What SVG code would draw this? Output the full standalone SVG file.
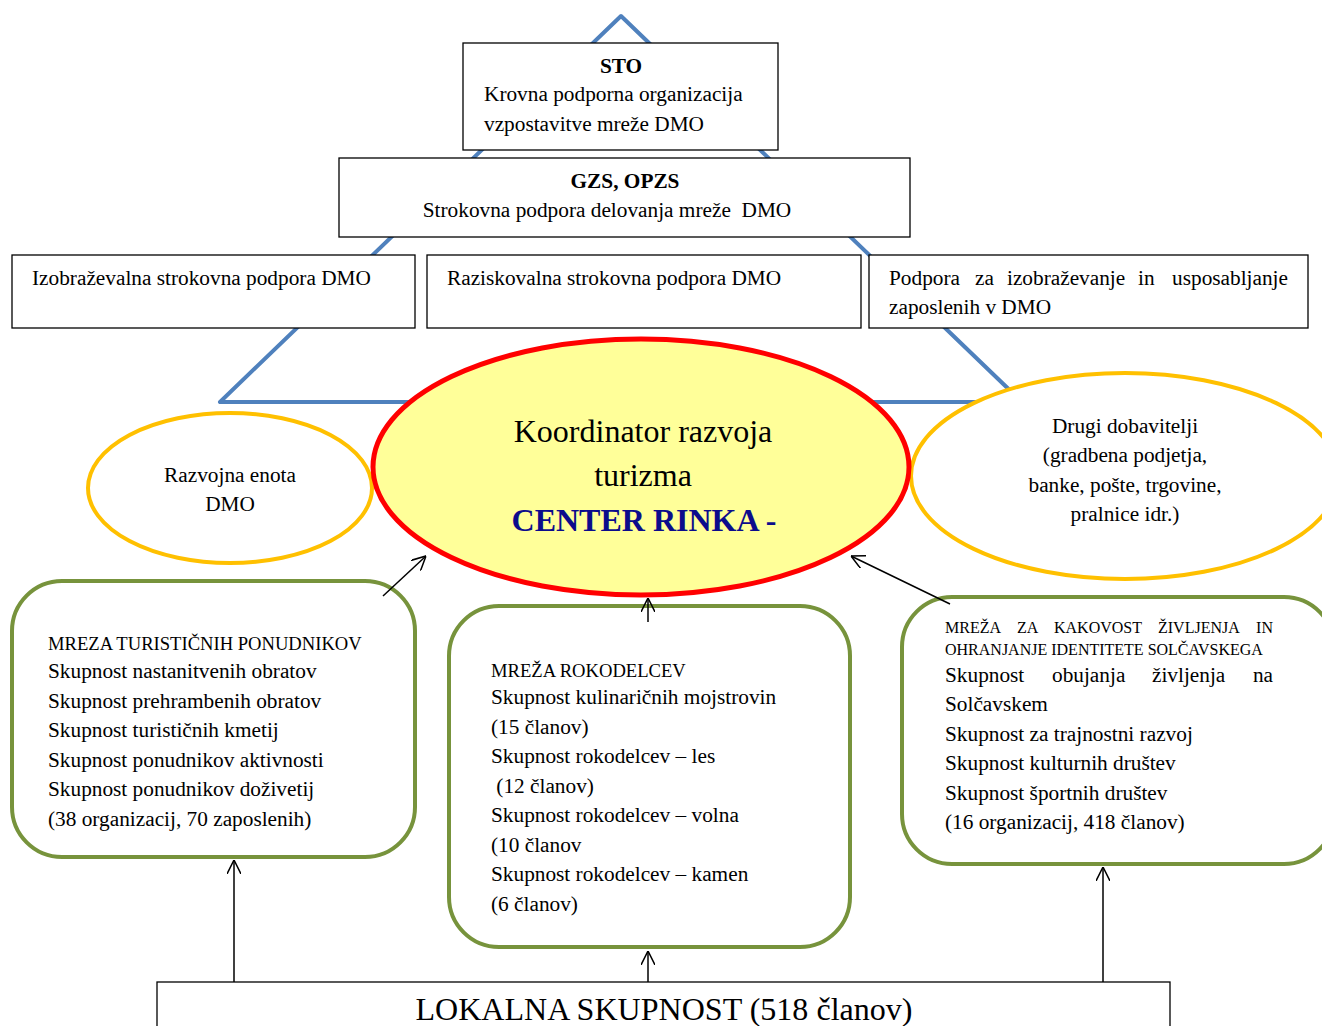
<svg xmlns="http://www.w3.org/2000/svg" width="1322" height="1026" viewBox="0 0 1322 1026">
<defs>
<marker id="arr" viewBox="0 0 12 12" refX="12" refY="6" markerWidth="14" markerHeight="14" markerUnits="userSpaceOnUse" orient="auto">
<path d="M0,0 L12,6 L0,12" fill="none" stroke="#000" stroke-width="1.3"/>
</marker>
<style>
text{font-family:"Liberation Serif","Times New Roman",serif;fill:#000}
.t{font-size:21.3px}
.s{font-size:18.6px}
.s2{font-size:16px}
.b{font-weight:bold}
.c{text-anchor:middle}
.box{fill:#fff;stroke:#000;stroke-width:1.3}
.grp{fill:#fff;stroke:#77933c;stroke-width:4}
.yel{fill:#fff;stroke:#ffc000;stroke-width:4}
.con{stroke:#000;stroke-width:1.5;fill:none;marker-end:url(#arr)}
</style>
</defs>
<rect width="1322" height="1026" fill="#fff"/>
<g id="triangle">
<polygon points="621,16 220,402 1022,402" fill="none" stroke="#4f81bd" stroke-width="4" stroke-linejoin="round"/>
</g>
<g id="sto">
<rect class="box" x="463" y="43" width="315" height="107"/>
<text class="t b c" x="621" y="73">STO</text>
<text class="t" x="484" y="101">Krovna podporna organizacija</text>
<text class="t" x="484" y="131">vzpostavitve mreže DMO</text>
</g>
<g id="gzs">
<rect class="box" x="339" y="158" width="571" height="79"/>
<text class="t b c" x="625" y="188">GZS, OPZS</text>
<text class="t c" x="607" y="217" xml:space="preserve">Strokovna podpora delovanja mreže  DMO</text>
</g>
<g id="izobrazevalna">
<rect class="box" x="12" y="255" width="403" height="73"/>
<text class="t" x="32" y="285">Izobraževalna strokovna podpora DMO</text>
</g>
<g id="raziskovalna">
<rect class="box" x="427" y="255" width="434" height="73"/>
<text class="t" x="447" y="285">Raziskovalna strokovna podpora DMO</text>
</g>
<g id="podpora">
<rect class="box" x="869" y="255" width="439" height="73"/>
<text class="t" y="285"><tspan x="889">Podpora</tspan><tspan x="975">za</tspan><tspan x="1007">izobraževanje</tspan><tspan x="1138">in</tspan><tspan x="1288" text-anchor="end">usposabljanje</tspan></text>
<text class="t" x="889" y="314">zaposlenih v DMO</text>
</g>
<g id="razvojna">
<ellipse class="yel" cx="230" cy="488" rx="142" ry="75"/>
<text class="t c" x="230" y="482">Razvojna enota</text>
<text class="t c" x="230" y="511">DMO</text>
</g>
<g id="drugi">
<ellipse class="yel" cx="1125" cy="476" rx="214" ry="103"/>
<text class="t c" x="1125" y="433">Drugi dobavitelji</text>
<text class="t c" x="1125" y="462">(gradbena podjetja,</text>
<text class="t c" x="1125" y="492">banke, pošte, trgovine,</text>
<text class="t c" x="1125" y="521">pralnice idr.)</text>
</g>
<g id="center">
<ellipse cx="641" cy="467" rx="268" ry="128" fill="#ffff99" stroke="#ff0000" stroke-width="5"/>
<text class="c" x="643" y="442" font-size="32">Koordinator razvoja</text>
<text class="c" x="643" y="486" font-size="32">turizma</text>
<text class="c b" x="644" y="531" font-size="32" style="fill:#0c0c8c">CENTER RINKA -</text>
</g>
<g id="turisticni">
<rect class="grp" x="12" y="581" width="403" height="276" rx="50"/>
<text class="s" x="48" y="650">MREZA TURISTIČNIH PONUDNIKOV</text>
<text class="t" x="48" y="678">Skupnost nastanitvenih obratov</text>
<text class="t" x="48" y="708">Skupnost prehrambenih obratov</text>
<text class="t" x="48" y="737">Skupnost turističnih kmetij</text>
<text class="t" x="48" y="767">Skupnost ponudnikov aktivnosti</text>
<text class="t" x="48" y="796">Skupnost ponudnikov doživetij</text>
<text class="t" x="48" y="826">(38 organizacij, 70 zaposlenih)</text>
</g>
<g id="rokodelci">
<rect class="grp" x="449" y="606" width="401" height="341" rx="50"/>
<text class="s" x="491" y="677">MREŽA ROKODELCEV</text>
<text class="t" x="491" y="704">Skupnost kulinaričnih mojstrovin</text>
<text class="t" x="491" y="734">(15 članov)</text>
<text class="t" x="491" y="763">Skupnost rokodelcev – les</text>
<text class="t" x="491" y="793" xml:space="preserve"> (12 članov)</text>
<text class="t" x="491" y="822">Skupnost rokodelcev – volna</text>
<text class="t" x="491" y="852">(10 članov</text>
<text class="t" x="491" y="881">Skupnost rokodelcev – kamen</text>
<text class="t" x="491" y="911">(6 članov)</text>
</g>
<g id="kakovost">
<rect class="grp" x="902" y="597" width="432" height="267" rx="50"/>
<text class="s2" y="633"><tspan x="945">MREŽA</tspan><tspan x="1017">ZA</tspan><tspan x="1054">KAKOVOST</tspan><tspan x="1158">ŽIVLJENJA</tspan><tspan x="1273" text-anchor="end">IN</tspan></text>
<text class="s2" x="945" y="655">OHRANJANJE IDENTITETE SOLČAVSKEGA</text>
<text class="t" y="682"><tspan x="945">Skupnost</tspan><tspan x="1052">obujanja</tspan><tspan x="1152">življenja</tspan><tspan x="1273" text-anchor="end">na</tspan></text>
<text class="t" x="945" y="711">Solčavskem</text>
<text class="t" x="945" y="741">Skupnost za trajnostni razvoj</text>
<text class="t" x="945" y="770">Skupnost kulturnih društev</text>
<text class="t" x="945" y="800">Skupnost športnih društev</text>
<text class="t" x="945" y="829">(16 organizacij, 418 članov)</text>
</g>
<g id="lokalna">
<rect class="box" x="157" y="982" width="1013" height="60"/>
<text x="664" y="1020" font-size="32" class="c" textLength="497" lengthAdjust="spacingAndGlyphs">LOKALNA SKUPNOST (518 članov)</text>
</g>
<g id="connectors">
<line class="con" x1="383" y1="596" x2="426" y2="556"/>
<line class="con" x1="648" y1="622" x2="648" y2="598"/>
<line class="con" x1="950" y1="604" x2="851" y2="556"/>
<line class="con" x1="234" y1="982" x2="234" y2="860"/>
<line class="con" x1="648" y1="982" x2="648" y2="951"/>
<line class="con" x1="1103" y1="982" x2="1103" y2="867"/>
</g>
</svg>
